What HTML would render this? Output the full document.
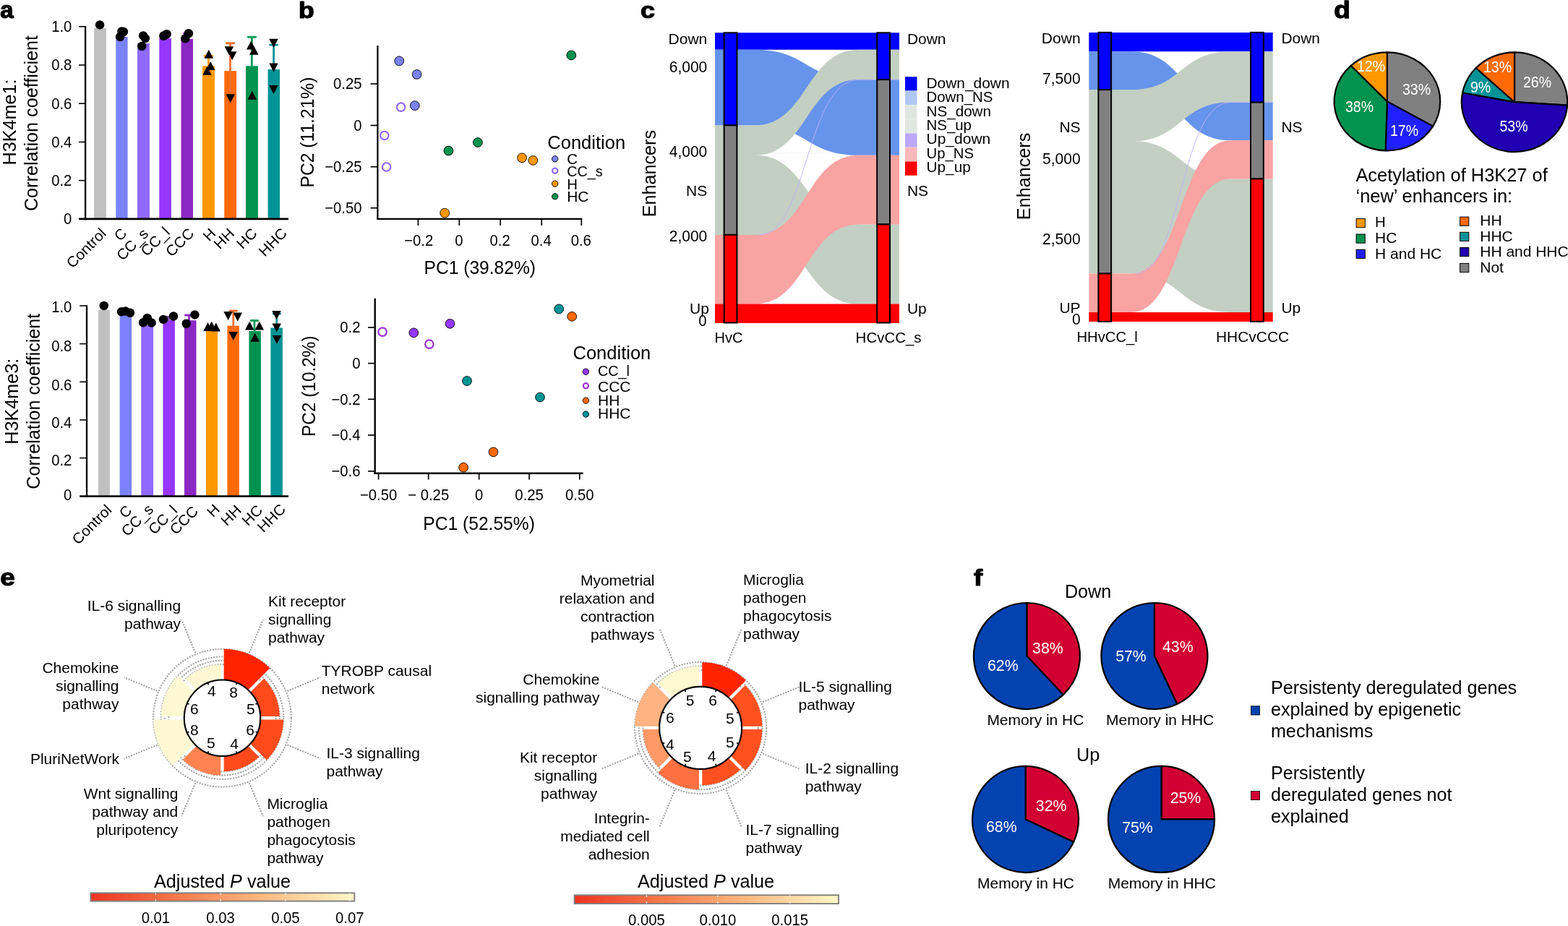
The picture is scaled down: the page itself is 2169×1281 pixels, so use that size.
<!DOCTYPE html>
<html lang="en"><head><meta charset="utf-8"><title>Figure</title>
<style>
html,body{margin:0;padding:0;background:#fff;}
body{width:2169px;height:1281px;overflow:hidden;}
svg{display:block;font-family:'Liberation Sans', Arial, Helvetica, sans-serif;}
text{font-family:"Liberation Sans",Arial,Helvetica,sans-serif;}
</style></head>
<body>
<svg width="2169" height="1281" viewBox="0 0 2169 1281">
<rect width="2169" height="1281" fill="#fff"/>
<g id="panel-a">
<text transform="translate(0.26 24.97) scale(1.0298 1.0141)" x="0" y="0" font-size="32.0" font-weight="bold" stroke="#000" stroke-width="1.2" stroke-linejoin="round">a</text>
<rect x="130.00" y="39.00" width="16.90" height="263.90" fill="#C0C0C0" />
<rect x="160.25" y="51.00" width="16.35" height="251.90" fill="#7B82FC" />
<rect x="190.00" y="60.00" width="16.90" height="242.90" fill="#9069FF" />
<rect x="220.25" y="53.10" width="16.65" height="249.80" fill="#9537FF" />
<rect x="250.50" y="54.00" width="16.50" height="248.90" fill="#8B28C3" />
<rect x="280.00" y="91.25" width="16.90" height="211.65" fill="#FF9800" />
<rect x="310.25" y="98.10" width="16.85" height="204.80" fill="#FF6A06" />
<rect x="340.00" y="91.25" width="16.90" height="211.65" fill="#039250" />
<rect x="370.60" y="96.00" width="16.50" height="206.90" fill="#029396" />
<line x1="258.70" y1="46.00" x2="258.70" y2="56.00" stroke="#8B28C3" stroke-width="2.8" />
<line x1="254.70" y1="46.00" x2="262.70" y2="46.00" stroke="#8B28C3" stroke-width="2.8" stroke-linecap="round"/>
<line x1="288.50" y1="77.50" x2="288.50" y2="93.00" stroke="#FF9800" stroke-width="2.8" />
<line x1="283.25" y1="77.50" x2="293.75" y2="77.50" stroke="#FF9800" stroke-width="2.8" stroke-linecap="round"/>
<line x1="318.50" y1="59.75" x2="318.50" y2="130.00" stroke="#F07030" stroke-width="2.8" />
<line x1="313.25" y1="59.75" x2="323.75" y2="59.75" stroke="#F07030" stroke-width="2.8" stroke-linecap="round"/>
<line x1="348.40" y1="51.25" x2="348.40" y2="93.00" stroke="#0B9B5A" stroke-width="2.8" />
<line x1="343.15" y1="51.25" x2="353.65" y2="51.25" stroke="#0B9B5A" stroke-width="2.8" stroke-linecap="round"/>
<line x1="378.60" y1="62.10" x2="378.60" y2="98.00" stroke="#029396" stroke-width="2.8" />
<line x1="373.35" y1="62.10" x2="383.85" y2="62.10" stroke="#029396" stroke-width="2.8" stroke-linecap="round"/>
<line x1="118.10" y1="35.95" x2="118.10" y2="304.20" stroke="#000" stroke-width="2.3" />
<line x1="109.00" y1="302.90" x2="399.00" y2="302.90" stroke="#000" stroke-width="2.6" />
<line x1="109.00" y1="36.75" x2="118.10" y2="36.75" stroke="#000" stroke-width="1.6" />
<text x="99.40" y="44.05" font-size="21.62" text-anchor="end" textLength="28.22" lengthAdjust="spacingAndGlyphs">1.0</text>
<line x1="109.00" y1="89.98" x2="118.10" y2="89.98" stroke="#000" stroke-width="1.6" />
<text x="99.40" y="97.28" font-size="21.62" text-anchor="end" textLength="28.22" lengthAdjust="spacingAndGlyphs">0.8</text>
<line x1="109.00" y1="143.21" x2="118.10" y2="143.21" stroke="#000" stroke-width="1.6" />
<text x="99.40" y="150.51" font-size="21.62" text-anchor="end" textLength="28.22" lengthAdjust="spacingAndGlyphs">0.6</text>
<line x1="109.00" y1="196.44" x2="118.10" y2="196.44" stroke="#000" stroke-width="1.6" />
<text x="99.40" y="203.74" font-size="21.62" text-anchor="end" textLength="28.22" lengthAdjust="spacingAndGlyphs">0.4</text>
<line x1="109.00" y1="249.67" x2="118.10" y2="249.67" stroke="#000" stroke-width="1.6" />
<text x="99.40" y="256.97" font-size="21.62" text-anchor="end" textLength="28.22" lengthAdjust="spacingAndGlyphs">0.2</text>
<text x="99.20" y="310.00" font-size="21.62" text-anchor="end" textLength="11.29" lengthAdjust="spacingAndGlyphs">0</text>
<circle cx="138.10" cy="34.40" r="6.25" fill="#000"/>
<circle cx="168.40" cy="43.40" r="6.25" fill="#000"/>
<circle cx="170.90" cy="44.00" r="6.25" fill="#000"/>
<circle cx="166.20" cy="51.00" r="6.25" fill="#000"/>
<circle cx="198.10" cy="49.40" r="6.25" fill="#000"/>
<circle cx="200.90" cy="53.10" r="6.25" fill="#000"/>
<circle cx="196.25" cy="64.00" r="6.25" fill="#000"/>
<circle cx="226.25" cy="49.75" r="6.25" fill="#000"/>
<circle cx="230.60" cy="47.25" r="6.25" fill="#000"/>
<circle cx="228.00" cy="48.70" r="6.25" fill="#000"/>
<circle cx="260.90" cy="46.25" r="6.25" fill="#000"/>
<circle cx="256.25" cy="53.30" r="6.25" fill="#000"/>
<polygon points="288.75,68.70 282.50,80.70 295.00,80.70" fill="#000"/>
<polygon points="291.25,85.00 285.00,97.00 297.50,97.00" fill="#000"/>
<polygon points="286.50,91.80 280.25,103.80 292.75,103.80" fill="#000"/>
<polygon points="316.90,76.30 310.65,64.30 323.15,64.30" fill="#000"/>
<polygon points="321.25,83.30 315.00,71.30 327.50,71.30" fill="#000"/>
<polygon points="318.75,142.20 312.50,130.20 325.00,130.20" fill="#000"/>
<polygon points="347.25,56.50 341.00,68.50 353.50,68.50" fill="#000"/>
<polygon points="351.25,63.70 345.00,75.70 357.50,75.70" fill="#000"/>
<polygon points="348.75,125.75 342.50,137.75 355.00,137.75" fill="#000"/>
<polygon points="378.50,65.70 372.25,53.70 384.75,53.70" fill="#000"/>
<polygon points="378.50,99.50 372.25,87.50 384.75,87.50" fill="#000"/>
<polygon points="378.50,130.00 372.25,118.00 384.75,118.00" fill="#000"/>
<text x="148.10" y="324.30" font-size="20.4" text-anchor="end" textLength="67.60" lengthAdjust="spacingAndGlyphs" transform="rotate(-45 148.10 324.30)">Control</text>
<text x="176.60" y="324.10" font-size="20.4" text-anchor="end" transform="rotate(-45 176.60 324.10)">C</text>
<text x="206.50" y="324.50" font-size="20.4" text-anchor="end" textLength="52.44" lengthAdjust="spacingAndGlyphs" transform="rotate(-45 206.50 324.50)">CC_s</text>
<text x="236.00" y="322.50" font-size="20.4" text-anchor="end" textLength="46.61" lengthAdjust="spacingAndGlyphs" transform="rotate(-45 236.00 322.50)">CC_l</text>
<text x="269.70" y="324.00" font-size="20.4" text-anchor="end" textLength="45.43" lengthAdjust="spacingAndGlyphs" transform="rotate(-45 269.70 324.00)">CCC</text>
<text x="299.75" y="324.25" font-size="20.4" text-anchor="end" transform="rotate(-45 299.75 324.25)">H</text>
<text x="325.40" y="324.40" font-size="20.4" text-anchor="end" textLength="30.29" lengthAdjust="spacingAndGlyphs" transform="rotate(-45 325.40 324.40)">HH</text>
<text x="357.00" y="324.00" font-size="20.4" text-anchor="end" textLength="30.29" lengthAdjust="spacingAndGlyphs" transform="rotate(-45 357.00 324.00)">HC</text>
<text x="398.30" y="323.80" font-size="20.4" text-anchor="end" textLength="45.43" lengthAdjust="spacingAndGlyphs" transform="rotate(-45 398.30 323.80)">HHC</text>
<text x="22.00" y="169.00" font-size="25.2" text-anchor="middle" transform="rotate(-90 22.00 169.00)">H3K4me1:</text>
<text x="52.00" y="170.50" font-size="25.2" text-anchor="middle" transform="rotate(-90 52.00 170.50)">Correlation coefficient</text>
<rect x="136.00" y="428.50" width="15.90" height="258.00" fill="#C0C0C0" />
<rect x="165.60" y="436.00" width="16.50" height="250.50" fill="#7B82FC" />
<rect x="195.25" y="450.00" width="16.85" height="236.50" fill="#9069FF" />
<rect x="225.40" y="442.50" width="16.50" height="244.00" fill="#9537FF" />
<rect x="255.00" y="443.20" width="16.50" height="243.30" fill="#8B28C3" />
<rect x="285.00" y="458.00" width="16.00" height="228.50" fill="#FF9800" />
<rect x="314.40" y="450.60" width="16.50" height="235.90" fill="#FF6A06" />
<rect x="344.40" y="458.00" width="16.50" height="228.50" fill="#039250" />
<rect x="374.40" y="453.50" width="16.50" height="233.00" fill="#029396" />
<line x1="233.50" y1="438.50" x2="233.50" y2="444.00" stroke="#8050B0" stroke-width="2.8" />
<line x1="230.50" y1="438.50" x2="236.50" y2="438.50" stroke="#8050B0" stroke-width="2.8" stroke-linecap="round"/>
<line x1="261.50" y1="436.00" x2="261.50" y2="445.00" stroke="#8B28C3" stroke-width="2.8" />
<line x1="256.50" y1="436.00" x2="266.50" y2="436.00" stroke="#8B28C3" stroke-width="2.8" stroke-linecap="round"/>
<line x1="322.75" y1="430.00" x2="322.75" y2="458.00" stroke="#F07030" stroke-width="2.8" />
<line x1="318.00" y1="430.00" x2="327.50" y2="430.00" stroke="#F07030" stroke-width="2.8" stroke-linecap="round"/>
<line x1="352.00" y1="443.50" x2="352.00" y2="460.00" stroke="#0B9B5A" stroke-width="2.8" />
<line x1="347.25" y1="443.50" x2="356.75" y2="443.50" stroke="#0B9B5A" stroke-width="2.8" stroke-linecap="round"/>
<line x1="382.75" y1="434.00" x2="382.75" y2="455.00" stroke="#029396" stroke-width="2.8" />
<line x1="378.00" y1="434.00" x2="387.50" y2="434.00" stroke="#029396" stroke-width="2.8" stroke-linecap="round"/>
<line x1="120.00" y1="422.20" x2="120.00" y2="687.80" stroke="#000" stroke-width="2.3" />
<line x1="110.25" y1="686.50" x2="399.00" y2="686.50" stroke="#000" stroke-width="2.6" />
<line x1="110.25" y1="423.00" x2="120.00" y2="423.00" stroke="#000" stroke-width="1.6" />
<text x="99.40" y="431.60" font-size="21.62" text-anchor="end" textLength="28.22" lengthAdjust="spacingAndGlyphs">1.0</text>
<line x1="110.25" y1="475.64" x2="120.00" y2="475.64" stroke="#000" stroke-width="1.6" />
<text x="99.40" y="486.30" font-size="21.62" text-anchor="end" textLength="28.22" lengthAdjust="spacingAndGlyphs">0.8</text>
<line x1="110.25" y1="528.28" x2="120.00" y2="528.28" stroke="#000" stroke-width="1.6" />
<text x="99.40" y="539.60" font-size="21.62" text-anchor="end" textLength="28.22" lengthAdjust="spacingAndGlyphs">0.6</text>
<line x1="110.25" y1="580.92" x2="120.00" y2="580.92" stroke="#000" stroke-width="1.6" />
<text x="99.40" y="591.50" font-size="21.62" text-anchor="end" textLength="28.22" lengthAdjust="spacingAndGlyphs">0.4</text>
<line x1="110.25" y1="633.56" x2="120.00" y2="633.56" stroke="#000" stroke-width="1.6" />
<text x="99.40" y="643.60" font-size="21.62" text-anchor="end" textLength="28.22" lengthAdjust="spacingAndGlyphs">0.2</text>
<text x="99.20" y="692.30" font-size="21.62" text-anchor="end" textLength="11.29" lengthAdjust="spacingAndGlyphs">0</text>
<circle cx="143.75" cy="422.90" r="6.25" fill="#000"/>
<circle cx="168.10" cy="431.25" r="6.25" fill="#000"/>
<circle cx="173.75" cy="430.60" r="6.25" fill="#000"/>
<circle cx="180.00" cy="432.75" r="6.25" fill="#000"/>
<circle cx="198.10" cy="446.25" r="6.25" fill="#000"/>
<circle cx="203.75" cy="440.00" r="6.25" fill="#000"/>
<circle cx="209.60" cy="446.50" r="6.25" fill="#000"/>
<circle cx="226.00" cy="441.90" r="6.25" fill="#000"/>
<circle cx="240.00" cy="437.50" r="6.25" fill="#000"/>
<circle cx="257.75" cy="447.75" r="6.25" fill="#000"/>
<circle cx="269.40" cy="435.40" r="6.25" fill="#000"/>
<polygon points="287.50,446.00 281.25,458.00 293.75,458.00" fill="#000"/>
<polygon points="292.75,444.50 286.50,456.50 299.00,456.50" fill="#000"/>
<polygon points="298.75,446.50 292.50,458.50 305.00,458.50" fill="#000"/>
<polygon points="315.60,443.00 309.35,431.00 321.85,431.00" fill="#000"/>
<polygon points="328.75,444.50 322.50,432.50 335.00,432.50" fill="#000"/>
<polygon points="322.75,471.00 316.50,459.00 329.00,459.00" fill="#000"/>
<polygon points="345.25,444.50 339.00,456.50 351.50,456.50" fill="#000"/>
<polygon points="358.75,444.50 352.50,456.50 365.00,456.50" fill="#000"/>
<polygon points="352.75,460.70 346.50,472.70 359.00,472.70" fill="#000"/>
<polygon points="382.50,442.00 376.25,430.00 388.75,430.00" fill="#000"/>
<polygon points="382.75,459.50 376.50,447.50 389.00,447.50" fill="#000"/>
<polygon points="383.00,476.00 376.75,464.00 389.25,464.00" fill="#000"/>
<text x="155.90" y="706.75" font-size="20.4" text-anchor="end" textLength="67.60" lengthAdjust="spacingAndGlyphs" transform="rotate(-45 155.90 706.75)">Control</text>
<text x="183.60" y="707.60" font-size="20.4" text-anchor="end" transform="rotate(-45 183.60 707.60)">C</text>
<text x="213.30" y="706.00" font-size="20.4" text-anchor="end" textLength="52.44" lengthAdjust="spacingAndGlyphs" transform="rotate(-45 213.30 706.00)">CC_s</text>
<text x="246.50" y="707.50" font-size="20.4" text-anchor="end" textLength="46.61" lengthAdjust="spacingAndGlyphs" transform="rotate(-45 246.50 707.50)">CC_l</text>
<text x="275.50" y="708.60" font-size="20.4" text-anchor="end" textLength="45.43" lengthAdjust="spacingAndGlyphs" transform="rotate(-45 275.50 708.60)">CCC</text>
<text x="305.10" y="706.00" font-size="20.4" text-anchor="end" transform="rotate(-45 305.10 706.00)">H</text>
<text x="335.10" y="707.00" font-size="20.4" text-anchor="end" textLength="30.29" lengthAdjust="spacingAndGlyphs" transform="rotate(-45 335.10 707.00)">HH</text>
<text x="364.50" y="707.00" font-size="20.4" text-anchor="end" textLength="30.29" lengthAdjust="spacingAndGlyphs" transform="rotate(-45 364.50 707.00)">HC</text>
<text x="396.40" y="705.50" font-size="20.4" text-anchor="end" textLength="45.43" lengthAdjust="spacingAndGlyphs" transform="rotate(-45 396.40 705.50)">HHC</text>
<text x="25.00" y="555.20" font-size="25.2" text-anchor="middle" transform="rotate(-90 25.00 555.20)">H3K4me3:</text>
<text x="55.40" y="555.20" font-size="25.2" text-anchor="middle" transform="rotate(-90 55.40 555.20)">Correlation coefficient</text>
</g>
<g id="panel-b">
<text transform="translate(413.02 24.79) scale(1.1080 0.9891)" x="0" y="0" font-size="32.0" font-weight="bold" stroke="#000" stroke-width="1.2" stroke-linejoin="round">b</text>
<line x1="522.40" y1="63.00" x2="522.40" y2="304.00" stroke="#000" stroke-width="2.2" />
<line x1="521.30" y1="302.90" x2="805.30" y2="302.90" stroke="#000" stroke-width="2.2" />
<line x1="512.60" y1="116.00" x2="522.40" y2="116.00" stroke="#000" stroke-width="1.7" />
<text x="500.50" y="123.20" font-size="21.62" text-anchor="end" textLength="39.51" lengthAdjust="spacingAndGlyphs">0.25</text>
<line x1="512.60" y1="173.50" x2="522.40" y2="173.50" stroke="#000" stroke-width="1.7" />
<text x="500.50" y="180.70" font-size="21.62" text-anchor="end" textLength="11.29" lengthAdjust="spacingAndGlyphs">0</text>
<line x1="512.60" y1="230.70" x2="522.40" y2="230.70" stroke="#000" stroke-width="1.7" />
<text x="500.50" y="237.90" font-size="21.62" text-anchor="end" textLength="51.36" lengthAdjust="spacingAndGlyphs">−0.25</text>
<line x1="512.60" y1="287.70" x2="522.40" y2="287.70" stroke="#000" stroke-width="1.7" />
<text x="500.50" y="294.90" font-size="21.62" text-anchor="end" textLength="51.36" lengthAdjust="spacingAndGlyphs">−0.50</text>
<line x1="578.40" y1="302.90" x2="578.40" y2="312.00" stroke="#000" stroke-width="1.7" />
<text x="579.20" y="340.20" font-size="21.62" text-anchor="middle" textLength="40.07" lengthAdjust="spacingAndGlyphs">−0.2</text>
<line x1="635.30" y1="302.90" x2="635.30" y2="312.00" stroke="#000" stroke-width="1.7" />
<text x="634.80" y="340.20" font-size="21.62" text-anchor="middle" textLength="11.29" lengthAdjust="spacingAndGlyphs">0</text>
<line x1="692.20" y1="302.90" x2="692.20" y2="312.00" stroke="#000" stroke-width="1.7" />
<text x="691.70" y="340.20" font-size="21.62" text-anchor="middle" textLength="28.22" lengthAdjust="spacingAndGlyphs">0.2</text>
<line x1="749.20" y1="302.90" x2="749.20" y2="312.00" stroke="#000" stroke-width="1.7" />
<text x="748.70" y="340.20" font-size="21.62" text-anchor="middle" textLength="28.22" lengthAdjust="spacingAndGlyphs">0.4</text>
<line x1="804.30" y1="302.90" x2="804.30" y2="312.00" stroke="#000" stroke-width="1.7" />
<text x="803.80" y="340.20" font-size="21.62" text-anchor="middle" textLength="28.22" lengthAdjust="spacingAndGlyphs">0.6</text>
<text x="663.80" y="379.20" font-size="25.2" text-anchor="middle" textLength="154.50" lengthAdjust="spacingAndGlyphs">PC1 (39.82%)</text>
<text x="434.00" y="183.00" font-size="25.2" text-anchor="middle" textLength="153.00" lengthAdjust="spacingAndGlyphs" transform="rotate(-90 434.00 183.00)">PC2 (11.21%)</text>
<circle cx="552.20" cy="84.30" r="6.40" fill="#7B82F0" stroke="#000" stroke-width="0.9"/>
<circle cx="576.60" cy="102.90" r="6.40" fill="#7B82F0" stroke="#000" stroke-width="0.9"/>
<circle cx="573.80" cy="146.10" r="6.40" fill="#7B82F0" stroke="#000" stroke-width="0.9"/>
<circle cx="554.60" cy="148.20" r="5.75" fill="#fff" stroke="#9069FF" stroke-width="2.2"/>
<circle cx="531.80" cy="187.50" r="5.75" fill="#fff" stroke="#9069FF" stroke-width="2.2"/>
<circle cx="534.60" cy="231.00" r="5.75" fill="#fff" stroke="#9069FF" stroke-width="2.2"/>
<circle cx="790.30" cy="76.40" r="6.40" fill="#039250" stroke="#000" stroke-width="0.9"/>
<circle cx="660.90" cy="197.00" r="6.40" fill="#039250" stroke="#000" stroke-width="0.9"/>
<circle cx="620.40" cy="208.50" r="6.40" fill="#039250" stroke="#000" stroke-width="0.9"/>
<circle cx="722.10" cy="218.30" r="6.40" fill="#FF9800" stroke="#000" stroke-width="0.9"/>
<circle cx="737.30" cy="221.90" r="6.40" fill="#FF9800" stroke="#000" stroke-width="0.9"/>
<circle cx="615.20" cy="294.70" r="6.40" fill="#FF9800" stroke="#000" stroke-width="0.9"/>
<text x="757.30" y="205.70" font-size="25.2" textLength="107.80" lengthAdjust="spacingAndGlyphs">Condition</text>
<circle cx="767.70" cy="219.80" r="4.20" fill="#7B82F0" stroke="#000" stroke-width="0.9"/>
<text x="784.20" y="226.80" font-size="20.4">C</text>
<circle cx="767.70" cy="236.20" r="3.55" fill="#fff" stroke="#9069FF" stroke-width="2.2"/>
<text x="784.20" y="244.40" font-size="20.4" textLength="49.50" lengthAdjust="spacingAndGlyphs">CC_s</text>
<circle cx="767.70" cy="254.20" r="4.20" fill="#FF9800" stroke="#000" stroke-width="0.9"/>
<text x="784.20" y="261.80" font-size="20.4">H</text>
<circle cx="767.70" cy="271.80" r="4.20" fill="#039250" stroke="#000" stroke-width="0.9"/>
<text x="784.20" y="278.50" font-size="20.4" textLength="30.29" lengthAdjust="spacingAndGlyphs">HC</text>
<line x1="518.70" y1="412.80" x2="518.70" y2="655.90" stroke="#000" stroke-width="2.4" />
<line x1="517.50" y1="654.70" x2="806.60" y2="654.70" stroke="#000" stroke-width="2.4" />
<line x1="509.00" y1="453.00" x2="518.70" y2="453.00" stroke="#000" stroke-width="1.7" />
<text x="498.50" y="460.20" font-size="21.62" text-anchor="end" textLength="28.22" lengthAdjust="spacingAndGlyphs">0.2</text>
<line x1="509.00" y1="502.60" x2="518.70" y2="502.60" stroke="#000" stroke-width="1.7" />
<text x="498.50" y="509.80" font-size="21.62" text-anchor="end" textLength="11.29" lengthAdjust="spacingAndGlyphs">0</text>
<line x1="509.00" y1="552.30" x2="518.70" y2="552.30" stroke="#000" stroke-width="1.7" />
<text x="498.50" y="559.50" font-size="21.62" text-anchor="end" textLength="40.07" lengthAdjust="spacingAndGlyphs">−0.2</text>
<line x1="509.00" y1="601.90" x2="518.70" y2="601.90" stroke="#000" stroke-width="1.7" />
<text x="498.50" y="609.10" font-size="21.62" text-anchor="end" textLength="40.07" lengthAdjust="spacingAndGlyphs">−0.4</text>
<line x1="509.00" y1="651.80" x2="518.70" y2="651.80" stroke="#000" stroke-width="1.7" />
<text x="498.50" y="659.00" font-size="21.62" text-anchor="end" textLength="40.07" lengthAdjust="spacingAndGlyphs">−0.6</text>
<line x1="523.60" y1="654.70" x2="523.60" y2="663.50" stroke="#000" stroke-width="1.7" />
<text x="523.60" y="692.30" font-size="21.62" text-anchor="middle" textLength="51.36" lengthAdjust="spacingAndGlyphs">−0.50</text>
<line x1="592.70" y1="654.70" x2="592.70" y2="663.50" stroke="#000" stroke-width="1.7" />
<text x="592.70" y="692.30" font-size="21.62" text-anchor="middle" textLength="57.00" lengthAdjust="spacingAndGlyphs">− 0.25</text>
<line x1="662.70" y1="654.70" x2="662.70" y2="663.50" stroke="#000" stroke-width="1.7" />
<text x="662.70" y="692.30" font-size="21.62" text-anchor="middle" textLength="11.29" lengthAdjust="spacingAndGlyphs">0</text>
<line x1="732.10" y1="654.70" x2="732.10" y2="663.50" stroke="#000" stroke-width="1.7" />
<text x="732.10" y="692.30" font-size="21.62" text-anchor="middle" textLength="39.51" lengthAdjust="spacingAndGlyphs">0.25</text>
<line x1="801.80" y1="654.70" x2="801.80" y2="663.50" stroke="#000" stroke-width="1.7" />
<text x="801.80" y="692.30" font-size="21.62" text-anchor="middle" textLength="39.51" lengthAdjust="spacingAndGlyphs">0.50</text>
<text x="662.60" y="732.70" font-size="25.2" text-anchor="middle" textLength="154.50" lengthAdjust="spacingAndGlyphs">PC1 (52.55%)</text>
<text x="436.00" y="534.20" font-size="25.2" text-anchor="middle" textLength="139.50" lengthAdjust="spacingAndGlyphs" transform="rotate(-90 436.00 534.20)">PC2 (10.2%)</text>
<circle cx="572.30" cy="460.30" r="6.40" fill="#9537FF" stroke="#000" stroke-width="0.9"/>
<circle cx="622.50" cy="447.80" r="6.40" fill="#9537FF" stroke="#000" stroke-width="0.9"/>
<circle cx="529.10" cy="459.10" r="5.75" fill="#fff" stroke="#9B30D0" stroke-width="2.2"/>
<circle cx="593.90" cy="476.10" r="5.75" fill="#fff" stroke="#9B30D0" stroke-width="2.2"/>
<circle cx="773.20" cy="427.40" r="6.40" fill="#029396" stroke="#000" stroke-width="0.9"/>
<circle cx="646.00" cy="527.00" r="6.40" fill="#029396" stroke="#000" stroke-width="0.9"/>
<circle cx="747.00" cy="549.50" r="6.40" fill="#029396" stroke="#000" stroke-width="0.9"/>
<circle cx="791.20" cy="437.80" r="6.40" fill="#FF6A06" stroke="#000" stroke-width="0.9"/>
<circle cx="682.50" cy="625.30" r="6.40" fill="#FF6A06" stroke="#000" stroke-width="0.9"/>
<circle cx="641.10" cy="646.60" r="6.40" fill="#FF6A06" stroke="#000" stroke-width="0.9"/>
<text x="792.50" y="496.70" font-size="25.2" textLength="107.80" lengthAdjust="spacingAndGlyphs">Condition</text>
<circle cx="810.40" cy="514.20" r="4.20" fill="#9537FF" stroke="#000" stroke-width="0.9"/>
<text x="827.10" y="520.30" font-size="20.4" textLength="43.90" lengthAdjust="spacingAndGlyphs">CC_l</text>
<circle cx="810.40" cy="533.70" r="3.55" fill="#fff" stroke="#9B30D0" stroke-width="2.2"/>
<text x="827.10" y="541.60" font-size="20.4" textLength="45.43" lengthAdjust="spacingAndGlyphs">CCC</text>
<circle cx="810.40" cy="554.10" r="4.20" fill="#FF6A06" stroke="#000" stroke-width="0.9"/>
<text x="827.10" y="560.50" font-size="20.4" textLength="30.29" lengthAdjust="spacingAndGlyphs">HH</text>
<circle cx="810.40" cy="573.00" r="4.20" fill="#029396" stroke="#000" stroke-width="0.9"/>
<text x="827.10" y="579.30" font-size="20.4" textLength="45.43" lengthAdjust="spacingAndGlyphs">HHC</text>
</g>
<g id="panel-c">
<text transform="translate(886.08 24.59) scale(1.1180 0.9847)" x="0" y="0" font-size="32.0" font-weight="bold" stroke="#000" stroke-width="1.2" stroke-linejoin="round">c</text>
<line x1="989.00" y1="95.00" x2="1244.00" y2="95.00" stroke="#ECECEC" stroke-width="0.8" />
<line x1="989.00" y1="211.90" x2="1244.00" y2="211.90" stroke="#ECECEC" stroke-width="0.8" />
<line x1="989.00" y1="328.80" x2="1244.00" y2="328.80" stroke="#ECECEC" stroke-width="0.8" />
<path d="M989.00,45.30 L1044.00,45.30 C1117.44,45.30 1114.56,45.30 1188.00,45.30 L1244.00,45.30 L1244.00,68.70 L1188.00,68.70 C1114.56,68.70 1117.44,68.70 1044.00,68.70 L989.00,68.70 Z" fill="#0000FF" />
<path d="M989.00,68.70 L1044.00,68.70 C1117.44,68.70 1114.56,110.10 1188.00,110.10 L1244.00,110.10 L1244.00,214.80 L1188.00,214.80 C1114.56,214.80 1117.44,173.40 1044.00,173.40 L989.00,173.40 Z" fill="#6694EA" />
<path d="M989.00,173.40 L1044.00,173.40 C1117.44,173.40 1114.56,68.70 1188.00,68.70 L1244.00,68.70 L1244.00,110.10 L1188.00,110.10 C1114.56,110.10 1117.44,215.00 1044.00,215.00 L989.00,215.00 Z" fill="#C3CFC3" />
<path d="M989.00,214.40 L1044.00,214.40 C1117.44,214.40 1114.56,310.40 1188.00,310.40 L1244.00,310.40 L1244.00,420.50 L1188.00,420.50 C1114.56,420.50 1117.44,324.90 1044.00,324.90 L989.00,324.90 Z" fill="#C3CFC3" />
<path d="M989.00,324.90 L1044.00,324.90 C1117.44,324.90 1114.56,214.80 1188.00,214.80 L1244.00,214.80 L1244.00,310.40 L1188.00,310.40 C1114.56,310.40 1117.44,420.50 1044.00,420.50 L989.00,420.50 Z" fill="#F9A3A3" />
<path d="M1050.00,324.90 C1117.44,324.90 1114.56,110.30 1188.00,110.30 L1244.00,110.30" fill="none" stroke="#BDB0FA" stroke-width="0.9"/>
<path d="M989.00,420.50 L1044.00,420.50 C1117.44,420.50 1114.56,420.50 1188.00,420.50 L1244.00,420.50 L1244.00,446.90 L1188.00,446.90 C1114.56,446.90 1117.44,446.90 1044.00,446.90 L989.00,446.90 Z" fill="#FF0000" />
<rect x="1001.60" y="45.30" width="17.80" height="128.10" fill="#0000FF" stroke="#000" stroke-width="2.0" />
<rect x="1001.60" y="173.40" width="17.80" height="151.50" fill="#808080" stroke="#000" stroke-width="2.0" />
<rect x="1001.60" y="324.90" width="17.80" height="121.60" fill="#FF0000" stroke="#000" stroke-width="2.0" />
<rect x="1213.20" y="45.30" width="17.80" height="64.80" fill="#0000FF" stroke="#000" stroke-width="2.0" />
<rect x="1213.20" y="110.10" width="17.80" height="200.30" fill="#808080" stroke="#000" stroke-width="2.0" />
<rect x="1213.20" y="310.40" width="17.80" height="136.10" fill="#FF0000" stroke="#000" stroke-width="2.0" />
<text x="978.30" y="60.50" font-size="20.4" text-anchor="end" textLength="53.72" lengthAdjust="spacingAndGlyphs">Down</text>
<text x="978.30" y="99.90" font-size="21.62" text-anchor="end" textLength="52.58" lengthAdjust="spacingAndGlyphs">6,000</text>
<text x="978.30" y="217.00" font-size="21.62" text-anchor="end" textLength="52.58" lengthAdjust="spacingAndGlyphs">4,000</text>
<text x="978.30" y="270.60" font-size="20.4" text-anchor="end" textLength="29.19" lengthAdjust="spacingAndGlyphs">NS</text>
<text x="978.30" y="334.20" font-size="21.62" text-anchor="end" textLength="52.58" lengthAdjust="spacingAndGlyphs">2,000</text>
<text x="980.90" y="434.10" font-size="20.4" text-anchor="end" textLength="26.81" lengthAdjust="spacingAndGlyphs">Up</text>
<text x="977.60" y="451.30" font-size="21.62" text-anchor="end" textLength="11.29" lengthAdjust="spacingAndGlyphs">0</text>
<text x="907.30" y="240.10" font-size="25.2" text-anchor="middle" transform="rotate(-90 907.30 240.10)">Enhancers</text>
<text x="1254.90" y="60.50" font-size="20.4" textLength="53.62" lengthAdjust="spacingAndGlyphs">Down</text>
<text x="1254.90" y="270.60" font-size="20.4" textLength="29.13" lengthAdjust="spacingAndGlyphs">NS</text>
<text x="1254.90" y="434.10" font-size="20.4" textLength="26.81" lengthAdjust="spacingAndGlyphs">Up</text>
<text x="988.50" y="473.70" font-size="20.4" textLength="38.90" lengthAdjust="spacingAndGlyphs">HvC</text>
<text x="1183.60" y="473.70" font-size="20.4" textLength="91.00" lengthAdjust="spacingAndGlyphs">HCvCC_s</text>
<rect x="1252.00" y="106.20" width="16.50" height="19.29" fill="#0000FF" />
<text x="1281.50" y="121.75" font-size="20.4" textLength="115.00" lengthAdjust="spacingAndGlyphs">Down_down</text>
<rect x="1252.00" y="125.74" width="16.50" height="19.29" fill="#B0C8F5" />
<text x="1281.50" y="141.13" font-size="20.4" textLength="92.00" lengthAdjust="spacingAndGlyphs">Down_NS</text>
<rect x="1252.00" y="145.28" width="16.50" height="19.29" fill="#E0E6E0" />
<text x="1281.50" y="160.51" font-size="20.4" textLength="89.50" lengthAdjust="spacingAndGlyphs">NS_down</text>
<rect x="1252.00" y="164.82" width="16.50" height="19.29" fill="#E0E6E0" />
<text x="1281.50" y="179.89" font-size="20.4" textLength="62.50" lengthAdjust="spacingAndGlyphs">NS_up</text>
<rect x="1252.00" y="184.36" width="16.50" height="19.29" fill="#BBA8FA" />
<text x="1281.50" y="199.27" font-size="20.4" textLength="88.75" lengthAdjust="spacingAndGlyphs">Up_down</text>
<rect x="1252.00" y="203.90" width="16.50" height="19.29" fill="#FBB8B8" />
<text x="1281.50" y="218.65" font-size="20.4" textLength="65.50" lengthAdjust="spacingAndGlyphs">Up_NS</text>
<rect x="1252.00" y="223.44" width="16.50" height="19.29" fill="#FF0000" />
<text x="1281.50" y="238.03" font-size="20.4" textLength="61.25" lengthAdjust="spacingAndGlyphs">Up_up</text>
<line x1="1506.30" y1="111.50" x2="1760.70" y2="111.50" stroke="#ECECEC" stroke-width="0.8" />
<line x1="1506.30" y1="222.50" x2="1760.70" y2="222.50" stroke="#ECECEC" stroke-width="0.8" />
<line x1="1506.30" y1="333.50" x2="1760.70" y2="333.50" stroke="#ECECEC" stroke-width="0.8" />
<path d="M1506.30,44.90 L1565.00,44.90 C1634.87,44.90 1632.13,44.90 1702.00,44.90 L1760.70,44.90 L1760.70,71.20 L1702.00,71.20 C1632.13,71.20 1634.87,71.20 1565.00,71.20 L1506.30,71.20 Z" fill="#0000FF" />
<path d="M1506.30,71.20 L1565.00,71.20 C1634.87,71.20 1632.13,141.60 1702.00,141.60 L1760.70,141.60 L1760.70,194.30 L1702.00,194.30 C1632.13,194.30 1634.87,124.10 1565.00,124.10 L1506.30,124.10 Z" fill="#6694EA" />
<path d="M1506.30,124.10 L1565.00,124.10 C1634.87,124.10 1632.13,71.20 1702.00,71.20 L1760.70,71.20 L1760.70,141.60 L1702.00,141.60 C1632.13,141.60 1634.87,195.60 1565.00,195.60 L1506.30,195.60 Z" fill="#C3CFC3" />
<path d="M1506.30,195.00 L1565.00,195.00 C1634.87,195.00 1632.13,247.40 1702.00,247.40 L1760.70,247.40 L1760.70,431.90 L1702.00,431.90 C1632.13,431.90 1634.87,378.50 1565.00,378.50 L1506.30,378.50 Z" fill="#C3CFC3" />
<path d="M1506.30,378.50 L1565.00,378.50 C1634.87,378.50 1632.13,194.30 1702.00,194.30 L1760.70,194.30 L1760.70,247.40 L1702.00,247.40 C1632.13,247.40 1634.87,431.90 1565.00,431.90 L1506.30,431.90 Z" fill="#F9A3A3" />
<path d="M1571.00,378.50 C1634.87,378.50 1632.13,141.60 1702.00,141.60 L1760.70,141.60" fill="none" stroke="#BDB0FA" stroke-width="0.9"/>
<path d="M1506.30,431.90 L1565.00,431.90 C1634.87,431.90 1632.13,431.90 1702.00,431.90 L1760.70,431.90 L1760.70,444.90 L1702.00,444.90 C1632.13,444.90 1634.87,444.90 1565.00,444.90 L1506.30,444.90 Z" fill="#FF0000" />
<rect x="1519.40" y="44.90" width="17.70" height="79.20" fill="#0000FF" stroke="#000" stroke-width="2.0" />
<rect x="1519.40" y="124.10" width="17.70" height="254.40" fill="#808080" stroke="#000" stroke-width="2.0" />
<rect x="1519.40" y="378.50" width="17.70" height="66.30" fill="#FF0000" stroke="#000" stroke-width="2.0" />
<rect x="1730.00" y="44.90" width="17.80" height="96.70" fill="#0000FF" stroke="#000" stroke-width="2.0" />
<rect x="1730.00" y="141.60" width="17.80" height="105.80" fill="#808080" stroke="#000" stroke-width="2.0" />
<rect x="1730.00" y="247.40" width="17.80" height="197.40" fill="#FF0000" stroke="#000" stroke-width="2.0" />
<text x="1494.60" y="59.70" font-size="20.4" text-anchor="end" textLength="53.72" lengthAdjust="spacingAndGlyphs">Down</text>
<text x="1494.60" y="116.20" font-size="21.62" text-anchor="end" textLength="52.58" lengthAdjust="spacingAndGlyphs">7,500</text>
<text x="1494.60" y="182.60" font-size="20.4" text-anchor="end" textLength="29.19" lengthAdjust="spacingAndGlyphs">NS</text>
<text x="1494.60" y="227.40" font-size="21.62" text-anchor="end" textLength="52.58" lengthAdjust="spacingAndGlyphs">5,000</text>
<text x="1494.60" y="337.80" font-size="21.62" text-anchor="end" textLength="52.58" lengthAdjust="spacingAndGlyphs">2,500</text>
<text x="1494.60" y="433.10" font-size="20.4" text-anchor="end" textLength="29.19" lengthAdjust="spacingAndGlyphs">UP</text>
<text x="1494.60" y="449.00" font-size="21.62" text-anchor="end" textLength="11.69" lengthAdjust="spacingAndGlyphs">0</text>
<text x="1425.10" y="243.90" font-size="25.2" text-anchor="middle" transform="rotate(-90 1425.10 243.90)">Enhancers</text>
<text x="1772.40" y="59.70" font-size="20.4" textLength="53.62" lengthAdjust="spacingAndGlyphs">Down</text>
<text x="1772.40" y="182.60" font-size="20.4" textLength="29.13" lengthAdjust="spacingAndGlyphs">NS</text>
<text x="1772.40" y="433.10" font-size="20.4" textLength="26.81" lengthAdjust="spacingAndGlyphs">Up</text>
<text x="1489.50" y="473.10" font-size="20.4" textLength="84.30" lengthAdjust="spacingAndGlyphs">HHvCC_l</text>
<text x="1681.90" y="472.70" font-size="20.4" textLength="101.35" lengthAdjust="spacingAndGlyphs">HHCvCCC</text>
</g>
<g id="panel-d">
<text transform="translate(1845.18 24.74) scale(1.1542 1.0477)" x="0" y="0" font-size="32.0" font-weight="bold" stroke="#000" stroke-width="1.2" stroke-linejoin="round">d</text>
<path d="M1918.90,140.40 L1918.90,72.40 A73.30,68.00 0 0 1 1982.23,174.65 Z" fill="#808080" stroke="#000" stroke-width="2.2" stroke-linejoin="round"/>
<path d="M1918.90,140.40 L1982.23,174.65 A73.30,68.00 0 0 1 1916.60,208.37 Z" fill="#2020FF" stroke="#000" stroke-width="2.2" stroke-linejoin="round"/>
<path d="M1918.90,140.40 L1916.60,208.37 A73.30,68.00 0 0 1 1868.72,90.83 Z" fill="#039250" stroke="#000" stroke-width="2.2" stroke-linejoin="round"/>
<path d="M1918.90,140.40 L1868.72,90.83 A73.30,68.00 0 0 1 1918.90,72.40 Z" fill="#FF9800" stroke="#000" stroke-width="2.2" stroke-linejoin="round"/>
<path d="M2095.00,141.20 L2095.00,72.30 A73.20,68.90 0 0 1 2168.06,145.53 Z" fill="#808080" stroke="#000" stroke-width="2.2" stroke-linejoin="round"/>
<path d="M2095.00,141.20 L2168.06,145.53 A73.20,68.90 0 1 1 2023.10,128.29 Z" fill="#2000B0" stroke="#000" stroke-width="2.2" stroke-linejoin="round"/>
<path d="M2095.00,141.20 L2023.10,128.29 A73.20,68.90 0 0 1 2041.64,94.03 Z" fill="#029396" stroke="#000" stroke-width="2.2" stroke-linejoin="round"/>
<path d="M2095.00,141.20 L2041.64,94.03 A73.20,68.90 0 0 1 2095.00,72.30 Z" fill="#FF6A06" stroke="#000" stroke-width="2.2" stroke-linejoin="round"/>
<text x="1896.50" y="98.80" font-size="21.62" text-anchor="middle" textLength="39.07" lengthAdjust="spacingAndGlyphs" fill="#fff">12%</text>
<text x="1959.50" y="130.80" font-size="21.62" text-anchor="middle" textLength="39.07" lengthAdjust="spacingAndGlyphs" fill="#fff">33%</text>
<text x="1880.50" y="154.50" font-size="21.62" text-anchor="middle" textLength="39.07" lengthAdjust="spacingAndGlyphs" fill="#fff">38%</text>
<text x="1942.50" y="188.00" font-size="21.62" text-anchor="middle" textLength="39.07" lengthAdjust="spacingAndGlyphs" fill="#fff">17%</text>
<text x="2071.50" y="100.00" font-size="21.62" text-anchor="middle" textLength="39.07" lengthAdjust="spacingAndGlyphs" fill="#fff">13%</text>
<text x="2126.50" y="121.00" font-size="21.62" text-anchor="middle" textLength="39.07" lengthAdjust="spacingAndGlyphs" fill="#fff">26%</text>
<text x="2048.00" y="128.20" font-size="21.62" text-anchor="middle" textLength="28.22" lengthAdjust="spacingAndGlyphs" fill="#fff">9%</text>
<text x="2094.00" y="181.75" font-size="21.62" text-anchor="middle" textLength="39.07" lengthAdjust="spacingAndGlyphs" fill="#fff">53%</text>
<text x="1875.40" y="250.70" font-size="25.2" textLength="265.30" lengthAdjust="spacingAndGlyphs">Acetylation of H3K27 of</text>
<text x="1875.60" y="280.00" font-size="25.2" textLength="216.50" lengthAdjust="spacingAndGlyphs">‘new’ enhancers in:</text>
<rect x="1876.10" y="302.50" width="12.20" height="12.20" fill="#FF9800" stroke="#000" stroke-width="1" />
<text x="1902.10" y="314.40" font-size="20.4">H</text>
<rect x="1876.10" y="324.00" width="12.20" height="12.20" fill="#039250" stroke="#000" stroke-width="1" />
<text x="1902.10" y="336.20" font-size="20.4" textLength="30.29" lengthAdjust="spacingAndGlyphs">HC</text>
<rect x="1876.10" y="345.20" width="12.20" height="12.20" fill="#2020FF" stroke="#000" stroke-width="1" />
<text x="1902.10" y="357.50" font-size="20.4" textLength="92.08" lengthAdjust="spacingAndGlyphs">H and HC</text>
<rect x="2019.60" y="300.10" width="12.20" height="12.20" fill="#FF6A06" stroke="#000" stroke-width="1" />
<text x="2047.30" y="312.20" font-size="20.4" textLength="30.29" lengthAdjust="spacingAndGlyphs">HH</text>
<rect x="2019.60" y="321.30" width="12.20" height="12.20" fill="#029396" stroke="#000" stroke-width="1" />
<text x="2047.30" y="333.70" font-size="20.4" textLength="45.43" lengthAdjust="spacingAndGlyphs">HHC</text>
<rect x="2019.60" y="342.50" width="12.20" height="12.20" fill="#2000B0" stroke="#000" stroke-width="1" />
<text x="2047.30" y="355.00" font-size="20.4" textLength="122.37" lengthAdjust="spacingAndGlyphs">HH and HHC</text>
<rect x="2019.60" y="364.40" width="12.20" height="12.20" fill="#808080" stroke="#000" stroke-width="1" />
<text x="2047.30" y="376.80" font-size="20.4" textLength="32.63" lengthAdjust="spacingAndGlyphs">Not</text>
</g>
<g id="panel-e">
<text transform="translate(0.15 809.97) scale(1.1527 1.0141)" x="0" y="0" font-size="32.0" font-weight="bold" stroke="#000" stroke-width="1.2" stroke-linejoin="round">e</text>
<circle cx="307.50" cy="993.20" r="74.07" stroke="#a6a6a6" stroke-width="2.1" stroke-dasharray="2.1 1.65" fill="none"/>
<circle cx="307.50" cy="993.20" r="79.40" stroke="#a6a6a6" stroke-width="2.1" stroke-dasharray="2.1 1.65" fill="none"/>
<circle cx="307.50" cy="993.20" r="84.73" stroke="#a6a6a6" stroke-width="2.1" stroke-dasharray="2.1 1.65" fill="none"/>
<circle cx="307.50" cy="993.20" r="95.39" stroke="#a6a6a6" stroke-width="2.1" stroke-dasharray="2.1 1.65" fill="none"/>
<line x1="344.74" y1="903.31" x2="363.75" y2="857.39" stroke="#a6a6a6" stroke-width="2.1" stroke-dasharray="2.1 1.65" fill="none"/>
<line x1="397.39" y1="955.96" x2="443.31" y2="936.95" stroke="#a6a6a6" stroke-width="2.1" stroke-dasharray="2.1 1.65" fill="none"/>
<line x1="397.39" y1="1030.44" x2="443.31" y2="1049.45" stroke="#a6a6a6" stroke-width="2.1" stroke-dasharray="2.1 1.65" fill="none"/>
<line x1="344.74" y1="1083.09" x2="363.75" y2="1129.01" stroke="#a6a6a6" stroke-width="2.1" stroke-dasharray="2.1 1.65" fill="none"/>
<line x1="270.26" y1="1083.09" x2="251.25" y2="1129.01" stroke="#a6a6a6" stroke-width="2.1" stroke-dasharray="2.1 1.65" fill="none"/>
<line x1="217.61" y1="1030.44" x2="171.69" y2="1049.45" stroke="#a6a6a6" stroke-width="2.1" stroke-dasharray="2.1 1.65" fill="none"/>
<line x1="217.61" y1="955.96" x2="171.69" y2="936.95" stroke="#a6a6a6" stroke-width="2.1" stroke-dasharray="2.1 1.65" fill="none"/>
<line x1="270.26" y1="903.31" x2="251.25" y2="857.39" stroke="#a6a6a6" stroke-width="2.1" stroke-dasharray="2.1 1.65" fill="none"/>
<path d="M309.70,940.50 L309.70,897.84 A95.39,95.39 0 0 1 373.38,924.21 L343.21,954.38 A52.75,52.75 0 0 0 309.70,940.50 Z" fill="#FF2400"/>
<path d="M346.32,957.49 L365.18,938.63 A79.40,79.40 0 0 1 386.87,991.00 L360.20,991.00 A52.75,52.75 0 0 0 346.32,957.49 Z" fill="#FF4A1C"/>
<path d="M360.20,995.40 L392.20,995.40 A84.73,84.73 0 0 1 368.95,1051.54 L346.32,1028.91 A52.75,52.75 0 0 0 360.20,995.40 Z" fill="#FF4A1C"/>
<path d="M343.21,1032.02 L358.30,1047.11 A74.07,74.07 0 0 1 309.70,1067.24 L309.70,1045.90 A52.75,52.75 0 0 0 343.21,1032.02 Z" fill="#FF4A1C"/>
<path d="M305.30,1045.90 L305.30,1072.57 A79.40,79.40 0 0 1 252.93,1050.88 L271.79,1032.02 A52.75,52.75 0 0 0 305.30,1045.90 Z" fill="#FF8350"/>
<path d="M268.68,1028.91 L238.51,1059.08 A95.39,95.39 0 0 1 212.14,995.40 L254.80,995.40 A52.75,52.75 0 0 0 268.68,1028.91 Z" fill="#FFF8D3"/>
<path d="M254.80,991.00 L222.80,991.00 A84.73,84.73 0 0 1 246.05,934.86 L268.68,957.49 A52.75,52.75 0 0 0 254.80,991.00 Z" fill="#FFF8D3"/>
<path d="M271.79,954.38 L256.70,939.29 A74.07,74.07 0 0 1 305.30,919.16 L305.30,940.50 A52.75,52.75 0 0 0 271.79,954.38 Z" fill="#FFF8D3"/>
<circle cx="307.50" cy="993.20" r="52.75" fill="#fff" stroke="#000" stroke-width="2.1"/>
<line x1="327.69" y1="944.47" x2="326.58" y2="947.14" stroke="#000" stroke-width="1.8" />
<text x="323.00" y="965.10" font-size="21" text-anchor="middle">8</text>
<line x1="356.23" y1="973.01" x2="353.56" y2="974.12" stroke="#000" stroke-width="1.8" />
<text x="346.75" y="988.25" font-size="21" text-anchor="middle">5</text>
<line x1="356.23" y1="1013.39" x2="353.56" y2="1012.28" stroke="#000" stroke-width="1.8" />
<text x="346.10" y="1017.00" font-size="21" text-anchor="middle">6</text>
<line x1="327.69" y1="1041.93" x2="326.58" y2="1039.26" stroke="#000" stroke-width="1.8" />
<text x="324.00" y="1036.40" font-size="21" text-anchor="middle">4</text>
<line x1="287.31" y1="1041.93" x2="288.42" y2="1039.26" stroke="#000" stroke-width="1.8" />
<text x="291.75" y="1035.10" font-size="21" text-anchor="middle">5</text>
<line x1="258.77" y1="1013.39" x2="261.44" y2="1012.28" stroke="#000" stroke-width="1.8" />
<text x="268.90" y="1017.00" font-size="21" text-anchor="middle">8</text>
<line x1="258.77" y1="973.01" x2="261.44" y2="974.12" stroke="#000" stroke-width="1.8" />
<text x="268.90" y="987.60" font-size="21" text-anchor="middle">6</text>
<line x1="287.31" y1="944.47" x2="288.42" y2="947.14" stroke="#000" stroke-width="1.8" />
<text x="292.75" y="963.25" font-size="21" text-anchor="middle">4</text>
<circle cx="969.10" cy="1006.90" r="79.68" stroke="#a6a6a6" stroke-width="2.1" stroke-dasharray="2.1 1.65" fill="none"/>
<circle cx="969.10" cy="1006.90" r="85.35" stroke="#a6a6a6" stroke-width="2.1" stroke-dasharray="2.1 1.65" fill="none"/>
<circle cx="969.10" cy="1006.90" r="91.02" stroke="#a6a6a6" stroke-width="2.1" stroke-dasharray="2.1 1.65" fill="none"/>
<line x1="1004.69" y1="920.98" x2="1025.74" y2="870.17" stroke="#a6a6a6" stroke-width="2.1" stroke-dasharray="2.1 1.65" fill="none"/>
<line x1="1055.02" y1="971.31" x2="1105.83" y2="950.26" stroke="#a6a6a6" stroke-width="2.1" stroke-dasharray="2.1 1.65" fill="none"/>
<line x1="1055.02" y1="1042.49" x2="1105.83" y2="1063.54" stroke="#a6a6a6" stroke-width="2.1" stroke-dasharray="2.1 1.65" fill="none"/>
<line x1="1004.69" y1="1092.82" x2="1025.74" y2="1143.63" stroke="#a6a6a6" stroke-width="2.1" stroke-dasharray="2.1 1.65" fill="none"/>
<line x1="933.51" y1="1092.82" x2="912.46" y2="1143.63" stroke="#a6a6a6" stroke-width="2.1" stroke-dasharray="2.1 1.65" fill="none"/>
<line x1="883.18" y1="1042.49" x2="832.37" y2="1063.54" stroke="#a6a6a6" stroke-width="2.1" stroke-dasharray="2.1 1.65" fill="none"/>
<line x1="883.18" y1="971.31" x2="832.37" y2="950.26" stroke="#a6a6a6" stroke-width="2.1" stroke-dasharray="2.1 1.65" fill="none"/>
<line x1="933.51" y1="920.98" x2="912.46" y2="870.17" stroke="#a6a6a6" stroke-width="2.1" stroke-dasharray="2.1 1.65" fill="none"/>
<path d="M971.30,949.94 L971.30,915.91 A91.02,91.02 0 0 1 1031.89,941.00 L1007.82,965.07 A57.00,57.00 0 0 0 971.30,949.94 Z" fill="#FF2400"/>
<path d="M1010.93,968.18 L1030.99,948.12 A85.35,85.35 0 0 1 1054.42,1004.70 L1026.06,1004.70 A57.00,57.00 0 0 0 1010.93,968.18 Z" fill="#FF5020"/>
<path d="M1026.06,1009.10 L1054.42,1009.10 A85.35,85.35 0 0 1 1030.99,1065.68 L1010.93,1045.62 A57.00,57.00 0 0 0 1026.06,1009.10 Z" fill="#FF5020"/>
<path d="M1007.82,1048.73 L1023.87,1064.78 A79.68,79.68 0 0 1 971.30,1086.55 L971.30,1063.86 A57.00,57.00 0 0 0 1007.82,1048.73 Z" fill="#FF5020"/>
<path d="M966.90,1063.86 L966.90,1092.22 A85.35,85.35 0 0 1 910.32,1068.79 L930.38,1048.73 A57.00,57.00 0 0 0 966.90,1063.86 Z" fill="#FF7040"/>
<path d="M927.27,1045.62 L911.22,1061.67 A79.68,79.68 0 0 1 889.45,1009.10 L912.14,1009.10 A57.00,57.00 0 0 0 927.27,1045.62 Z" fill="#FF9966"/>
<path d="M912.14,1004.70 L878.11,1004.70 A91.02,91.02 0 0 1 903.20,944.11 L927.27,968.18 A57.00,57.00 0 0 0 912.14,1004.70 Z" fill="#FFB482"/>
<path d="M930.38,965.07 L910.32,945.01 A85.35,85.35 0 0 1 966.90,921.58 L966.90,949.94 A57.00,57.00 0 0 0 930.38,965.07 Z" fill="#FFF8D0"/>
<circle cx="969.10" cy="1006.90" r="57.00" fill="#fff" stroke="#000" stroke-width="2.1"/>
<line x1="990.91" y1="954.24" x2="989.80" y2="956.92" stroke="#000" stroke-width="1.8" />
<text x="986.10" y="976.25" font-size="21" text-anchor="middle">6</text>
<line x1="1021.76" y1="985.09" x2="1019.08" y2="986.20" stroke="#000" stroke-width="1.8" />
<text x="1009.90" y="1001.25" font-size="21" text-anchor="middle">5</text>
<line x1="1021.76" y1="1028.71" x2="1019.08" y2="1027.60" stroke="#000" stroke-width="1.8" />
<text x="1009.90" y="1034.40" font-size="21" text-anchor="middle">5</text>
<line x1="990.91" y1="1059.56" x2="989.80" y2="1056.88" stroke="#000" stroke-width="1.8" />
<text x="984.50" y="1053.10" font-size="21" text-anchor="middle">4</text>
<line x1="947.29" y1="1059.56" x2="948.40" y2="1056.88" stroke="#000" stroke-width="1.8" />
<text x="950.75" y="1054.40" font-size="21" text-anchor="middle">5</text>
<line x1="916.44" y1="1028.71" x2="919.12" y2="1027.60" stroke="#000" stroke-width="1.8" />
<text x="926.75" y="1036.90" font-size="21" text-anchor="middle">4</text>
<line x1="916.44" y1="985.09" x2="919.12" y2="986.20" stroke="#000" stroke-width="1.8" />
<text x="926.90" y="1000.00" font-size="21" text-anchor="middle">6</text>
<line x1="947.29" y1="954.24" x2="948.40" y2="956.92" stroke="#000" stroke-width="1.8" />
<text x="954.50" y="976.25" font-size="21" text-anchor="middle">5</text>
<text x="250.10" y="845.00" font-size="20.4" text-anchor="end" textLength="129.40" lengthAdjust="spacingAndGlyphs">IL-6 signalling</text>
<text x="250.10" y="870.00" font-size="20.4" text-anchor="end" textLength="78.11" lengthAdjust="spacingAndGlyphs">pathway</text>
<text x="164.50" y="930.90" font-size="20.4" text-anchor="end" textLength="106.08" lengthAdjust="spacingAndGlyphs">Chemokine</text>
<text x="164.50" y="955.90" font-size="20.4" text-anchor="end" textLength="87.44" lengthAdjust="spacingAndGlyphs">signalling</text>
<text x="164.50" y="980.90" font-size="20.4" text-anchor="end" textLength="78.11" lengthAdjust="spacingAndGlyphs">pathway</text>
<text x="165.10" y="1057.20" font-size="20.4" text-anchor="end" textLength="123.14" lengthAdjust="spacingAndGlyphs">PluriNetWork</text>
<text x="246.30" y="1104.90" font-size="20.4" text-anchor="end" textLength="130.55" lengthAdjust="spacingAndGlyphs">Wnt signalling</text>
<text x="246.30" y="1129.90" font-size="20.4" text-anchor="end" textLength="118.93" lengthAdjust="spacingAndGlyphs">pathway and</text>
<text x="246.30" y="1154.90" font-size="20.4" text-anchor="end" textLength="113.08" lengthAdjust="spacingAndGlyphs">pluripotency</text>
<text x="371.00" y="838.60" font-size="20.4" textLength="107.23" lengthAdjust="spacingAndGlyphs">Kit receptor</text>
<text x="371.00" y="863.60" font-size="20.4" textLength="87.44" lengthAdjust="spacingAndGlyphs">signalling</text>
<text x="371.00" y="888.60" font-size="20.4" textLength="78.11" lengthAdjust="spacingAndGlyphs">pathway</text>
<text x="444.80" y="935.00" font-size="20.4" textLength="152.30" lengthAdjust="spacingAndGlyphs">TYROBP causal</text>
<text x="444.80" y="960.00" font-size="20.4" textLength="73.43" lengthAdjust="spacingAndGlyphs">network</text>
<text x="451.50" y="1049.20" font-size="20.4" textLength="129.40" lengthAdjust="spacingAndGlyphs">IL-3 signalling</text>
<text x="451.50" y="1074.20" font-size="20.4" textLength="78.11" lengthAdjust="spacingAndGlyphs">pathway</text>
<text x="369.40" y="1118.90" font-size="20.4" textLength="83.91" lengthAdjust="spacingAndGlyphs">Microglia</text>
<text x="369.40" y="1143.90" font-size="20.4" textLength="87.47" lengthAdjust="spacingAndGlyphs">pathogen</text>
<text x="369.40" y="1168.90" font-size="20.4" textLength="122.41" lengthAdjust="spacingAndGlyphs">phagocytosis</text>
<text x="369.40" y="1193.90" font-size="20.4" textLength="78.11" lengthAdjust="spacingAndGlyphs">pathway</text>
<text x="905.50" y="809.90" font-size="20.4" text-anchor="end" textLength="102.54" lengthAdjust="spacingAndGlyphs">Myometrial</text>
<text x="905.50" y="834.90" font-size="20.4" text-anchor="end" textLength="131.75" lengthAdjust="spacingAndGlyphs">relaxation and</text>
<text x="905.50" y="859.90" font-size="20.4" text-anchor="end" textLength="102.58" lengthAdjust="spacingAndGlyphs">contraction</text>
<text x="905.50" y="884.90" font-size="20.4" text-anchor="end" textLength="88.60" lengthAdjust="spacingAndGlyphs">pathways</text>
<text x="829.40" y="946.70" font-size="20.4" text-anchor="end" textLength="106.08" lengthAdjust="spacingAndGlyphs">Chemokine</text>
<text x="829.40" y="971.70" font-size="20.4" text-anchor="end" textLength="171.38" lengthAdjust="spacingAndGlyphs">signalling pathway</text>
<text x="826.20" y="1055.00" font-size="20.4" text-anchor="end" textLength="107.23" lengthAdjust="spacingAndGlyphs">Kit receptor</text>
<text x="826.20" y="1080.00" font-size="20.4" text-anchor="end" textLength="87.44" lengthAdjust="spacingAndGlyphs">signalling</text>
<text x="826.20" y="1105.00" font-size="20.4" text-anchor="end" textLength="78.11" lengthAdjust="spacingAndGlyphs">pathway</text>
<text x="898.80" y="1138.90" font-size="20.4" text-anchor="end" textLength="76.93" lengthAdjust="spacingAndGlyphs">Integrin-</text>
<text x="898.80" y="1163.90" font-size="20.4" text-anchor="end" textLength="123.56" lengthAdjust="spacingAndGlyphs">mediated cell</text>
<text x="898.80" y="1188.90" font-size="20.4" text-anchor="end" textLength="85.12" lengthAdjust="spacingAndGlyphs">adhesion</text>
<text x="1028.00" y="808.70" font-size="20.4" textLength="83.91" lengthAdjust="spacingAndGlyphs">Microglia</text>
<text x="1028.00" y="833.70" font-size="20.4" textLength="87.47" lengthAdjust="spacingAndGlyphs">pathogen</text>
<text x="1028.00" y="858.70" font-size="20.4" textLength="122.41" lengthAdjust="spacingAndGlyphs">phagocytosis</text>
<text x="1028.00" y="883.70" font-size="20.4" textLength="78.11" lengthAdjust="spacingAndGlyphs">pathway</text>
<text x="1104.50" y="956.60" font-size="20.4" textLength="129.40" lengthAdjust="spacingAndGlyphs">IL-5 signalling</text>
<text x="1104.50" y="981.60" font-size="20.4" textLength="78.11" lengthAdjust="spacingAndGlyphs">pathway</text>
<text x="1113.70" y="1070.30" font-size="20.4" textLength="129.40" lengthAdjust="spacingAndGlyphs">IL-2 signalling</text>
<text x="1113.70" y="1095.30" font-size="20.4" textLength="78.11" lengthAdjust="spacingAndGlyphs">pathway</text>
<text x="1031.50" y="1155.10" font-size="20.4" textLength="129.40" lengthAdjust="spacingAndGlyphs">IL-7 signalling</text>
<text x="1031.50" y="1180.10" font-size="20.4" textLength="78.11" lengthAdjust="spacingAndGlyphs">pathway</text>
<defs><linearGradient id="cbar" x1="0" x2="1" y1="0" y2="0"><stop offset="0" stop-color="#EE3322"/><stop offset="0.33" stop-color="#F77A4C"/><stop offset="0.66" stop-color="#FDBB84"/><stop offset="1" stop-color="#FFF8C8"/></linearGradient></defs>
<text x="307.60" y="1227.70" font-size="25.2" text-anchor="middle">Adjusted <tspan font-style="italic">P</tspan> value</text>
<rect x="125.40" y="1235.30" width="364.90" height="11.30" fill="url(#cbar)" stroke="#7f7f7f" stroke-width="1.9" />
<line x1="215.40" y1="1235.40" x2="215.40" y2="1237.90" stroke="#fff" stroke-width="1.3" />
<line x1="215.40" y1="1243.90" x2="215.40" y2="1246.40" stroke="#fff" stroke-width="1.3" />
<text x="215.40" y="1276.80" font-size="21.62" text-anchor="middle" textLength="39.51" lengthAdjust="spacingAndGlyphs">0.01</text>
<line x1="305.10" y1="1235.40" x2="305.10" y2="1237.90" stroke="#fff" stroke-width="1.3" />
<line x1="305.10" y1="1243.90" x2="305.10" y2="1246.40" stroke="#fff" stroke-width="1.3" />
<text x="305.10" y="1276.80" font-size="21.62" text-anchor="middle" textLength="39.51" lengthAdjust="spacingAndGlyphs">0.03</text>
<line x1="394.90" y1="1235.40" x2="394.90" y2="1237.90" stroke="#fff" stroke-width="1.3" />
<line x1="394.90" y1="1243.90" x2="394.90" y2="1246.40" stroke="#fff" stroke-width="1.3" />
<text x="394.90" y="1276.80" font-size="21.62" text-anchor="middle" textLength="39.51" lengthAdjust="spacingAndGlyphs">0.05</text>
<line x1="483.80" y1="1235.40" x2="483.80" y2="1237.90" stroke="#fff" stroke-width="1.3" />
<line x1="483.80" y1="1243.90" x2="483.80" y2="1246.40" stroke="#fff" stroke-width="1.3" />
<text x="483.80" y="1276.80" font-size="21.62" text-anchor="middle" textLength="39.51" lengthAdjust="spacingAndGlyphs">0.07</text>
<text x="976.60" y="1228.10" font-size="25.2" text-anchor="middle">Adjusted <tspan font-style="italic">P</tspan> value</text>
<rect x="794.60" y="1238.30" width="365.40" height="11.80" fill="url(#cbar)" stroke="#7f7f7f" stroke-width="1.9" />
<line x1="894.40" y1="1238.40" x2="894.40" y2="1240.90" stroke="#fff" stroke-width="1.3" />
<line x1="894.40" y1="1247.40" x2="894.40" y2="1249.90" stroke="#fff" stroke-width="1.3" />
<text x="894.40" y="1279.60" font-size="21.62" text-anchor="middle" textLength="50.79" lengthAdjust="spacingAndGlyphs">0.005</text>
<line x1="992.90" y1="1238.40" x2="992.90" y2="1240.90" stroke="#fff" stroke-width="1.3" />
<line x1="992.90" y1="1247.40" x2="992.90" y2="1249.90" stroke="#fff" stroke-width="1.3" />
<text x="992.90" y="1279.60" font-size="21.62" text-anchor="middle" textLength="50.79" lengthAdjust="spacingAndGlyphs">0.010</text>
<line x1="1092.60" y1="1238.40" x2="1092.60" y2="1240.90" stroke="#fff" stroke-width="1.3" />
<line x1="1092.60" y1="1247.40" x2="1092.60" y2="1249.90" stroke="#fff" stroke-width="1.3" />
<text x="1092.60" y="1279.60" font-size="21.62" text-anchor="middle" textLength="50.79" lengthAdjust="spacingAndGlyphs">0.015</text>
</g>
<g id="panel-f">
<text transform="translate(1346.96 809.71) scale(1.1428 0.9754)" x="0" y="0" font-size="32.0" font-weight="bold" stroke="#000" stroke-width="1.2" stroke-linejoin="round">f</text>
<text x="1505.10" y="826.50" font-size="25.2" text-anchor="middle">Down</text>
<text x="1505.10" y="1052.90" font-size="25.2" text-anchor="middle">Up</text>
<path d="M1420.40,907.50 L1420.40,834.00 A73.50,73.50 0 0 1 1470.71,961.08 Z" fill="#D20032" stroke="#000" stroke-width="2.2" stroke-linejoin="round"/>
<path d="M1420.40,907.50 L1470.71,961.08 A73.50,73.50 0 1 1 1420.40,834.00 Z" fill="#0343AF" stroke="#000" stroke-width="2.2" stroke-linejoin="round"/>
<path d="M1596.90,907.50 L1596.90,834.00 A73.50,73.50 0 0 1 1628.19,974.00 Z" fill="#D20032" stroke="#000" stroke-width="2.2" stroke-linejoin="round"/>
<path d="M1596.90,907.50 L1628.19,974.00 A73.50,73.50 0 1 1 1596.90,834.00 Z" fill="#0343AF" stroke="#000" stroke-width="2.2" stroke-linejoin="round"/>
<path d="M1418.60,1133.40 L1418.60,1059.90 A73.50,73.50 0 0 1 1485.10,1164.69 Z" fill="#D20032" stroke="#000" stroke-width="2.2" stroke-linejoin="round"/>
<path d="M1418.60,1133.40 L1485.10,1164.69 A73.50,73.50 0 1 1 1418.60,1059.90 Z" fill="#0343AF" stroke="#000" stroke-width="2.2" stroke-linejoin="round"/>
<path d="M1606.50,1133.40 L1606.50,1059.90 A73.50,73.50 0 0 1 1680.00,1133.40 Z" fill="#D20032" stroke="#000" stroke-width="2.2" stroke-linejoin="round"/>
<path d="M1606.50,1133.40 L1680.00,1133.40 A73.50,73.50 0 1 1 1606.50,1059.90 Z" fill="#0343AF" stroke="#000" stroke-width="2.2" stroke-linejoin="round"/>
<text x="1449.40" y="904.30" font-size="21.62" text-anchor="middle" textLength="42.67" lengthAdjust="spacingAndGlyphs" fill="#fff">38%</text>
<text x="1387.30" y="928.10" font-size="21.62" text-anchor="middle" textLength="42.67" lengthAdjust="spacingAndGlyphs" fill="#fff">62%</text>
<text x="1629.30" y="901.80" font-size="21.62" text-anchor="middle" textLength="42.67" lengthAdjust="spacingAndGlyphs" fill="#fff">43%</text>
<text x="1564.50" y="915.30" font-size="21.62" text-anchor="middle" textLength="42.67" lengthAdjust="spacingAndGlyphs" fill="#fff">57%</text>
<text x="1454.20" y="1121.80" font-size="21.62" text-anchor="middle" textLength="42.67" lengthAdjust="spacingAndGlyphs" fill="#fff">32%</text>
<text x="1385.30" y="1151.30" font-size="21.62" text-anchor="middle" textLength="42.67" lengthAdjust="spacingAndGlyphs" fill="#fff">68%</text>
<text x="1640.00" y="1110.80" font-size="21.62" text-anchor="middle" textLength="42.67" lengthAdjust="spacingAndGlyphs" fill="#fff">25%</text>
<text x="1573.50" y="1152.30" font-size="21.62" text-anchor="middle" textLength="42.67" lengthAdjust="spacingAndGlyphs" fill="#fff">75%</text>
<text x="1432.40" y="1003.10" font-size="20.4" text-anchor="middle" textLength="134.00" lengthAdjust="spacingAndGlyphs">Memory in HC</text>
<text x="1604.70" y="1003.10" font-size="20.4" text-anchor="middle" textLength="149.14" lengthAdjust="spacingAndGlyphs">Memory in HHC</text>
<text x="1419.00" y="1229.00" font-size="20.4" text-anchor="middle" textLength="134.00" lengthAdjust="spacingAndGlyphs">Memory in HC</text>
<text x="1607.30" y="1229.00" font-size="20.4" text-anchor="middle" textLength="149.14" lengthAdjust="spacingAndGlyphs">Memory in HHC</text>
<rect x="1730.40" y="976.80" width="12.20" height="12.20" fill="#0343AF" stroke="#000" stroke-width="0.8" />
<rect x="1730.40" y="1094.40" width="12.20" height="12.20" fill="#D20032" stroke="#000" stroke-width="0.8" />
<text x="1757.90" y="960.30" font-size="25.2">Persistenty deregulated genes</text>
<text x="1757.90" y="990.35" font-size="25.2">explained by epigenetic</text>
<text x="1757.90" y="1020.40" font-size="25.2">mechanisms</text>
<text x="1757.90" y="1078.20" font-size="25.2">Persistently</text>
<text x="1757.90" y="1108.20" font-size="25.2">deregulated genes not</text>
<text x="1757.90" y="1138.20" font-size="25.2">explained</text>
</g>
</svg>
</body></html>
